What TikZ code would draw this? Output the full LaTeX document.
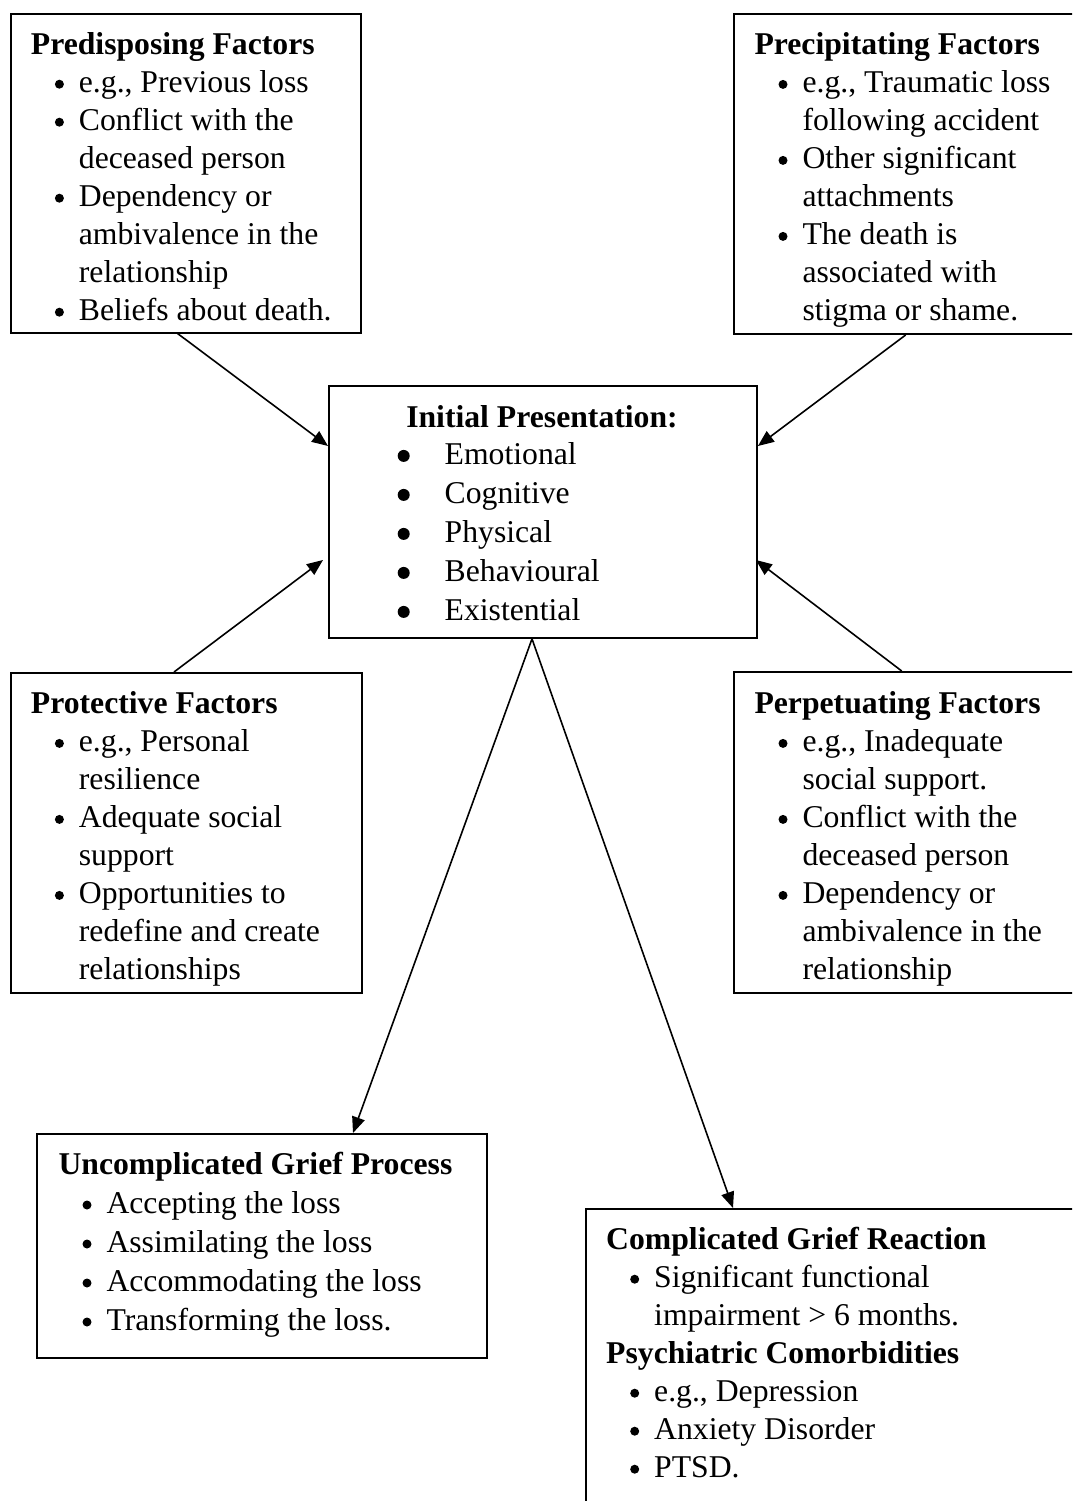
\documentclass[tikz,border=0pt]{standalone}
\usepackage{fontspec}
\setmainfont{Liberation Serif}
\usetikzlibrary{arrows.meta,calc}
\newlength\bi \setlength\bi{24pt}
\newlength\bw \setlength\bw{24pt}
\newlength\bt \setlength\bt{48pt}
\newcommand\bul[1][4.5pt]{\tikz[baseline=-8.5pt]\fill (0,0) circle (#1);}
\newcommand\hd[1]{\strut\textbf{#1}}
\newcommand\bl[1]{\strut\hspace*{\bi}\makebox[\bw][l]{\bul}#1}
\newcommand\cn[1]{\strut\hspace*{\bt}#1}
\newcommand\ib[1]{\strut\makebox[47pt][l]{\bul[6pt]}#1}
\tikzset{
  box/.style={draw, line width=1.9pt, anchor=north west, inner sep=0pt},
  txt/.style={anchor=north west, inner sep=0pt, align=left, font=\fontsize{31.7}{38}\selectfont},
  txtw/.style={anchor=north west, inner sep=0pt, align=left, font=\fontsize{31.7}{39}\selectfont},
  arr/.style={-{Triangle[length=16pt,width=13pt]}, line width=1.6pt}
}
\begin{document}
\begin{tikzpicture}[x=1pt,y=-1pt]
\useasboundingbox (0,0) rectangle (1072,1501);
\clip (0,0) rectangle (1072,1501);
% boxes
\node[box, minimum width=350pt, minimum height=319pt] (pre) at (10,12.7) {};
\node[box, minimum width=352pt, minimum height=320pt] (prc) at (733,13) {};
\node[box, minimum width=428pt, minimum height=252pt] (init) at (328,385) {};
\node[box, minimum width=351pt, minimum height=320pt] (pro) at (10,672) {};
\node[box, minimum width=352pt, minimum height=321pt] (per) at (733,671) {};
\node[box, minimum width=450pt, minimum height=224pt] (unc) at (36,1133) {};
\node[box, minimum width=500pt, minimum height=320pt] (com) at (585,1208) {};
% texts
\node[txt] (pret) at (30.7,27.9) {\hd{Predisposing Factors}\\
\bl{e.g., Previous loss}\\
\bl{Conflict with the}\\
\cn{deceased person}\\
\bl{Dependency or}\\
\cn{ambivalence in the}\\
\cn{relationship}\\
\bl{Beliefs about death.}};
\node[txt] (prct) at (754.3,28.1) {\hd{Precipitating Factors}\\
\bl{e.g., Traumatic loss}\\
\cn{following accident}\\
\bl{Other significant}\\
\cn{attachments}\\
\bl{The death is}\\
\cn{associated with}\\
\cn{stigma or shame.}};
\node[txt] (prot) at (30.7,687.1) {\hd{Protective Factors}\\
\bl{e.g., Personal}\\
\cn{resilience}\\
\bl{Adequate social}\\
\cn{support}\\
\bl{Opportunities to}\\
\cn{redefine and create}\\
\cn{relationships}};
\node[txt] (pert) at (754.3,687.1) {\hd{Perpetuating Factors}\\
\bl{e.g., Inadequate}\\
\cn{social support.}\\
\bl{Conflict with the}\\
\cn{deceased person}\\
\bl{Dependency or}\\
\cn{ambivalence in the}\\
\cn{relationship}};
\node[txtw] (unct) at (58.3,1147) {\hd{Uncomplicated Grief Process}\\
\bl{Accepting the loss}\\
\bl{Assimilating the loss}\\
\bl{Accommodating the loss}\\
\bl{Transforming the loss.}};
\node[txt] (comt) at (606,1222.9) {\hd{Complicated Grief Reaction}\\
\bl{Significant functional}\\
\cn{impairment > 6 months.}\\
\hd{Psychiatric Comorbidities}\\
\bl{e.g., Depression}\\
\bl{Anxiety Disorder}\\
\bl{PTSD.}};
\node[txt, anchor=north, align=center] (initt) at (542,401) {\hd{Initial Presentation:}};
\node[txtw] (initl) at (397.5,436.9) {\ib{Emotional}\\
\ib{Cognitive}\\
\ib{Physical}\\
\ib{Behavioural}\\
\ib{Existential}};
% connectors
\draw[arr] ($(pre.south west)+(167.7,0)$) -- ($(init.north west)+(0,61)$);
\draw[arr] ($(prc.south west)+(172.7,0)$) -- ($(init.north east)+(0,61)$);
\draw[arr] ($(pro.north west)+(164,0)$) -- ($(init.north west)+(-5,175)$);
\draw[arr] ($(per.north west)+(168.7,0)$) -- ($(init.north east)+(-2,175)$);
\draw[arr] ($(init.south west)+(204,0)$) -- ($(unc.north west)+(317,0)$);
\draw[arr] ($(init.south west)+(204,0)$) -- ($(com.north west)+(148,0)$);
\end{tikzpicture}
\end{document}
